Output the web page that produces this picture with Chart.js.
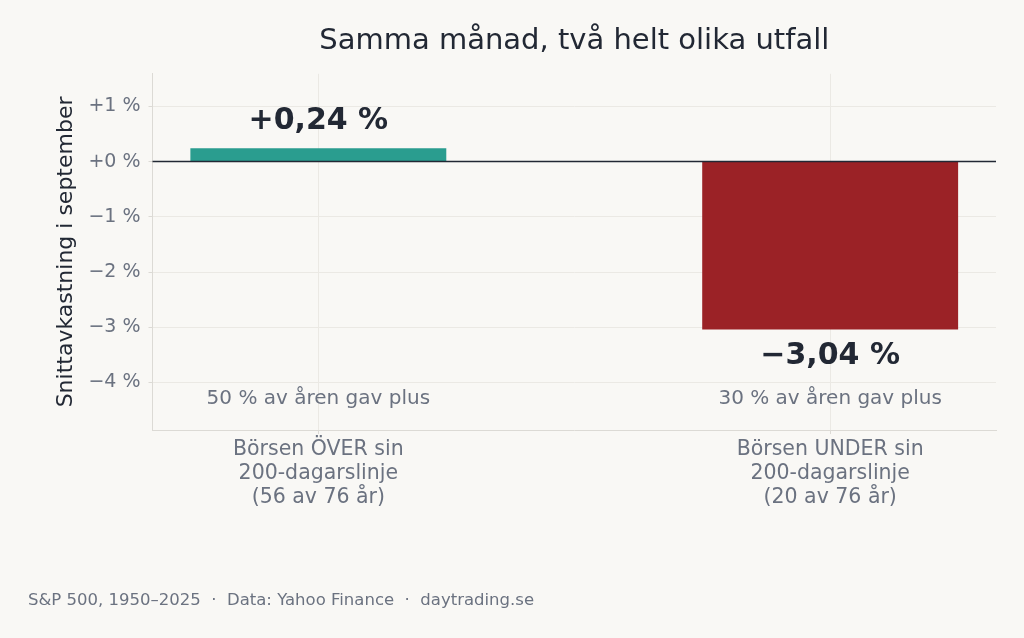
<!DOCTYPE html>
<html>
<head>
<meta charset="utf-8">
<script src="https://cdn.jsdelivr.net/npm/chart.js@4.4.1/dist/chart.umd.min.js"></script>
<style>
  html, body { margin: 0; padding: 0; background: #f9f8f5; }
  #wrap { width: 1024px; height: 638px; }
</style>
</head>
<body>
<div id="wrap"><canvas id="chart"></canvas></div>
<script>
// Chart data
const categories = [
    ["Börsen ÖVER sin", "200-dagarslinje", "(56 av 76 år)"],
    ["Börsen UNDER sin", "200-dagarslinje", "(20 av 76 år)"]
];
const categoryPos = [0, 1];
const avgReturn = [0.24, -3.04];
const shareUp = [50, 30];
const barColors = ["#2a9d8f", "#9b2226"];
const yTicks = [1, 0, -1, -2, -3, -4];

const FONT = "'DejaVu Sans', sans-serif";
const DARK = "#222834";
const GRAY = "#6b7280";
const GRID = "#ebe9e4";
const SPINE = "#dcdad5";

function fmtPct(v) {
    const s = Math.abs(v).toFixed(2).replace(".", ",");
    return (v >= 0 ? "+" : "\u2212") + s + " %";
}

const overlay = {
    id: "overlay",
    afterDatasetsDraw(chart) {
        const ctx = chart.ctx;
        const x = chart.scales.x, y = chart.scales.y;
        const area = chart.chartArea;
        // zero line on top of bars
        ctx.save();
        ctx.strokeStyle = DARK;
        ctx.lineWidth = 1.5;
        ctx.beginPath();
        ctx.moveTo(area.left, y.getPixelForValue(0));
        ctx.lineTo(area.right, y.getPixelForValue(0));
        ctx.stroke();

        ctx.textAlign = "center";
        ctx.textBaseline = "middle";
        avgReturn.forEach((v, i) => {
            const px = x.getPixelForValue(categoryPos[i]);
            const py = y.getPixelForValue(v);
            ctx.font = "bold 30px " + FONT;
            ctx.fillStyle = DARK;
            ctx.fillText(fmtPct(v), px, v >= 0 ? py - 27 : py + 27);
            ctx.font = "20px " + FONT;
            ctx.fillStyle = GRAY;
            ctx.fillText(shareUp[i] + " % av åren gav plus", px, y.getPixelForValue(-4.3));
        });

        // source line
        ctx.textAlign = "left";
        ctx.font = "16.5px " + FONT;
        ctx.fillStyle = GRAY;
        ctx.fillText("S&P 500, 1950\u20132025  \u00b7  Data: Yahoo Finance  \u00b7  daytrading.se", 28, 601);
        ctx.restore();
    }
};

const bgPlugin = {
    id: "bg",
    beforeDraw(chart) {
        const ctx = chart.ctx;
        ctx.save();
        ctx.fillStyle = "#f9f8f5";
        ctx.fillRect(0, 0, chart.width, chart.height);
        ctx.restore();
    }
};

new Chart(document.getElementById("chart"), {
    type: "bar",
    data: {
        datasets: [{
            data: avgReturn.map((v, i) => ({ x: categoryPos[i], y: v })),
            backgroundColor: barColors,
            borderWidth: 0,
            barPercentage: 0.5,
            categoryPercentage: 1
        }]
    },
    options: {
        responsive: true,
        maintainAspectRatio: false,
        animation: false,
        layout: { padding: { left: 53, right: 28, bottom: 124, top: 0 } },
        plugins: {
            legend: { display: false },
            tooltip: { enabled: false },
            title: {
                display: true,
                text: "Samma månad, två helt olika utfall",
                fullSize: false,
                color: DARK,
                font: { family: FONT, size: 29, weight: "normal" },
                padding: { top: 24, bottom: 15 }
            }
        },
        scales: {
            x: {
                type: "linear",
                offset: false,
                min: -0.324,
                max: 1.324,
                afterBuildTicks: s => { s.ticks = categoryPos.map(v => ({ value: v })); },
                ticks: {
                    color: GRAY,
                    font: { family: FONT, size: 20.5, lineHeight: 1.17 },
                    padding: 4,
                    maxRotation: 0,
                    autoSkip: false,
                    callback: (v) => categories[categoryPos.indexOf(v)] || ""
                },
                grid: { offset: false, color: GRID, tickColor: SPINE, tickLength: 4 },
                border: { color: SPINE }
            },
            y: {
                min: -4.86,
                max: 1.59,
                afterBuildTicks: s => { s.ticks = yTicks.map(v => ({ value: v })); },
                ticks: {
                    color: GRAY,
                    font: { family: FONT, size: 19 },
                    padding: 8,
                    callback: v => (v >= 0 ? "+" : "\u2212") + Math.abs(v) + " %"
                },
                grid: { color: GRID, tickColor: SPINE, tickLength: 4 },
                border: { color: SPINE },
                title: {
                    display: true,
                    text: "Snittavkastning i september",
                    color: DARK,
                    font: { family: FONT, size: 22 },
                    padding: { top: 0, bottom: 1 }
                }
            }
        }
    },
    plugins: [bgPlugin, overlay]
});
</script>
</body>
</html>
